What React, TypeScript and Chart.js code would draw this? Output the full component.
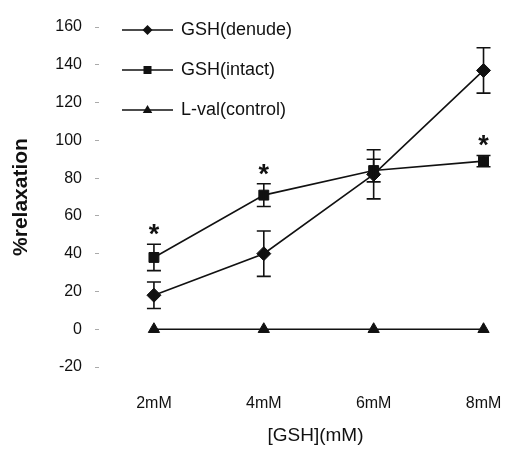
import React, { useEffect, useRef } from "react";
import { Chart, registerables } from "chart.js";

Chart.register(...registerables);

const concentrations = [2, 4, 6, 8];
const tickLabels = ["2mM", "4mM", "6mM", "8mM"];
const seriesNames = ["GSH(denude)", "GSH(intact)", "L-val(control)"];
const denudeMean = [18, 40, 82, 137];
const denudeErr = [7, 12, 13, 12];
const intactMean = [38, 71, 84, 89];
const intactErr = [7, 6, 6, 3];
const controlMean = [0, 0, 0, 0];
const controlErr = [0, 0, 0, 0];
const significant = [true, true, false, true];
const yTicks = [-20, 0, 20, 40, 60, 80, 100, 120, 140, 160];
const xTitle = "[GSH](mM)";
const yTitle = "%relaxation";

const FONT = "'Liberation Sans', Arial, sans-serif";
const INK = "#111";

type Shape = "rectRot" | "rect" | "triangle";
const shapes: Shape[] = ["rectRot", "rect", "triangle"];

function drawMarker(ctx: CanvasRenderingContext2D, shape: Shape, x: number, y: number, r: number) {
  ctx.beginPath();
  if (shape === "rectRot") {
    ctx.moveTo(x, y - r);
    ctx.lineTo(x + r, y);
    ctx.lineTo(x, y + r);
    ctx.lineTo(x - r, y);
  } else if (shape === "rect") {
    ctx.rect(x - r * 0.8, y - r * 0.8, r * 1.6, r * 1.6);
  } else {
    ctx.moveTo(x, y - r);
    ctx.lineTo(x + r * 0.95, y + r * 0.6);
    ctx.lineTo(x - r * 0.95, y + r * 0.6);
  }
  ctx.closePath();
  ctx.fill();
}

const errorBarPlugin = {
  id: "errorBars",
  afterDatasetsDraw(chart: any) {
    const { ctx, scales } = chart;
    const sets = [
      { m: denudeMean, e: denudeErr },
      { m: intactMean, e: intactErr },
      { m: controlMean, e: controlErr },
    ];
    ctx.save();
    ctx.strokeStyle = INK;
    ctx.lineWidth = 1.6;
    sets.forEach((s) => {
      concentrations.forEach((c, i) => {
        if (!s.e[i]) return;
        const x = scales.x.getPixelForValue(c);
        const yt = scales.y.getPixelForValue(s.m[i] + s.e[i]);
        const yb = scales.y.getPixelForValue(s.m[i] - s.e[i]);
        ctx.beginPath();
        ctx.moveTo(x, yt);
        ctx.lineTo(x, yb);
        ctx.moveTo(x - 7, yt);
        ctx.lineTo(x + 7, yt);
        ctx.moveTo(x - 7, yb);
        ctx.lineTo(x + 7, yb);
        ctx.stroke();
      });
    });
    // significance asterisks above the intact series
    ctx.fillStyle = INK;
    ctx.font = `bold 27px ${FONT}`;
    ctx.textAlign = "center";
    ctx.textBaseline = "alphabetic";
    concentrations.forEach((c, i) => {
      if (!significant[i]) return;
      const x = scales.x.getPixelForValue(c);
      const top = scales.y.getPixelForValue(intactMean[i] + intactErr[i]);
      ctx.fillText("*", x, top - 19 + 18);
    });
    ctx.restore();
  },
};

const legendPlugin = {
  id: "customLegend",
  afterDraw(chart: any) {
    const { ctx, chartArea } = chart;
    ctx.save();
    ctx.strokeStyle = INK;
    ctx.fillStyle = INK;
    ctx.lineWidth = 1.6;
    ctx.font = `18px ${FONT}`;
    ctx.textBaseline = "middle";
    ctx.textAlign = "left";
    seriesNames.forEach((name, i) => {
      const y = chartArea.top + 3 + i * 40;
      const x0 = chartArea.left + 23;
      const x1 = chartArea.left + 74;
      ctx.beginPath();
      ctx.moveTo(x0, y);
      ctx.lineTo(x1, y);
      ctx.stroke();
      drawMarker(ctx, shapes[i], (x0 + x1) / 2, y, 5);
      ctx.fillText(name, chartArea.left + 82, y);
    });
    // x axis title
    ctx.font = `19px ${FONT}`;
    ctx.textAlign = "center";
    ctx.fillText(xTitle, (chartArea.left + chartArea.right) / 2 + 16, chartArea.bottom + 69);
    ctx.restore();
  },
};

export default function App() {
  const ref = useRef<HTMLCanvasElement | null>(null);

  useEffect(() => {
    if (!ref.current) return;
    const mk = (vals: number[]) => concentrations.map((c, i) => ({ x: c, y: vals[i] }));
    const common = {
      borderColor: INK,
      backgroundColor: INK,
      pointBackgroundColor: INK,
      pointBorderColor: INK,
      borderWidth: 1.6,
      pointBorderWidth: 1,
      fill: false,
      tension: 0,
    };
    const chart = new Chart(ref.current, {
      type: "line",
      data: {
        datasets: [
          { ...common, label: seriesNames[0], data: mk(denudeMean), pointStyle: "rectRot", pointRadius: 7 },
          { ...common, label: seriesNames[1], data: mk(intactMean), pointStyle: "rect", pointRadius: 7 },
          { ...common, label: seriesNames[2], data: mk(controlMean), pointStyle: "triangle", pointRadius: 6.5 },
        ],
      },
      options: {
        animation: false,
        responsive: false,
        maintainAspectRatio: false,
        layout: { padding: { left: 0, right: 9, top: 27, bottom: 12 } },
        plugins: { legend: { display: false }, tooltip: { enabled: false } },
        scales: {
          x: {
            type: "linear",
            min: 1,
            max: 8.3,
            afterBuildTicks: (scale: any) => {
              scale.ticks = concentrations.map((v) => ({ value: v }));
            },
            afterFit: (scale: any) => {
              scale.height = 80;
              scale.paddingLeft = 0;
              scale.paddingRight = 0;
            },
            grid: { display: false, drawTicks: false },
            border: { display: false },
            ticks: {
              color: INK,
              font: { family: FONT, size: 16 },
              padding: 27,
              maxRotation: 0,
              callback: (v: any) => {
                const idx = concentrations.indexOf(Number(v));
                return idx >= 0 ? tickLabels[idx] : "";
              },
            },
            title: { display: false },
          },
          y: {
            type: "linear",
            min: -20,
            max: 160,
            afterBuildTicks: (scale: any) => {
              scale.ticks = yTicks.map((v) => ({ value: v }));
            },
            afterFit: (scale: any) => {
              scale.width = 99;
            },
            grid: { display: true, drawOnChartArea: false, drawTicks: true, tickLength: 4, color: "#aaa" },
            border: { display: false },
            ticks: {
              color: INK,
              font: { family: FONT, size: 16 },
              padding: 13,
            },
            title: {
              display: true,
              text: yTitle,
              color: INK,
              font: { family: FONT, size: 21, weight: "bold" },
              padding: { top: 9, bottom: 22 },
            },
          },
        },
      },
      plugins: [errorBarPlugin, legendPlugin],
    } as any);
    return () => chart.destroy();
  }, []);

  return (
    <div style={{ position: "fixed", left: 0, top: 0, width: 509, height: 459, background: "#fff" }}>
      <canvas ref={ref} width={509} height={459} style={{ width: 509, height: 459 }} />
    </div>
  );
}
